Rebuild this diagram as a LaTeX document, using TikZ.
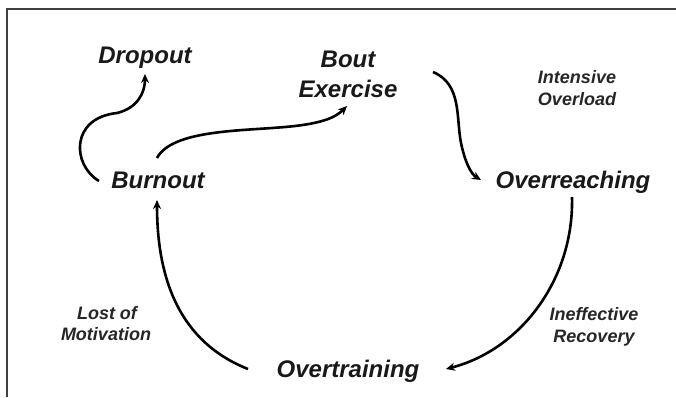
\documentclass[tikz,border=0pt]{standalone}
\usepackage{fontspec}
\setmainfont{Liberation Sans}
\usetikzlibrary{arrows.meta}
\begin{document}
\begin{tikzpicture}[x=1pt,y=-1pt,
 big/.style={font=\fontsize{24}{28}\selectfont\bfseries\itshape, anchor=base, inner sep=0pt, text=black!90},
 small/.style={font=\fontsize{18}{21}\selectfont\bfseries\itshape, anchor=base, inner sep=0pt, text=black!85},
 conn/.style={line width=2.6pt, -{Stealth[length=9pt,width=8pt]}}]
\useasboundingbox (0,0) rectangle (676,397);
\draw[line width=1.3pt, color=black!75] (7,397) -- (7,9) -- (676,9);
% main labels
\node[big] (dropout) at (145,63) {Dropout};
\node[big] (bout1) at (348,67) {Bout};
\node[big] (bout2) at (348,97) {Exercise};
\node[big] (burnout) at (158,188) {Burnout};
\node[big] (overreach) at (573,188) {Overreaching};
\node[big] (overtrain) at (348,377) {Overtraining};
% side labels
\node[small] (int1) at (577,83) {Intensive};
\node[small] (int2) at (577,105) {Overload};
\node[small] (inef1) at (594,320) {Ineffective};
\node[small] (inef2) at (594,342) {Recovery};
\node[small] (lost1) at (107,319) {Lost of};
\node[small] (lost2) at (106,340) {Motivation};
% connector end points
\coordinate (a1s) at (99,181);
\coordinate (a1e) at (145,74);
\coordinate (a2s) at (157,158);
\coordinate (a2e) at (347,106);
\coordinate (a3s) at (433,72);
\coordinate (a3e) at (481,180);
\coordinate (a4s) at (572,197);
\coordinate (a4e) at (446,369);
\coordinate (a5s) at (248,369);
\coordinate (a5e) at (157,200);
% connectors
\draw[conn] (a1s) .. controls (72,165) and (70,118) .. (117,113) .. controls (138,108) and (145,92) .. (a1e);
\draw[conn] (a2s) .. controls (172,130) and (240,131) .. (285,127) .. controls (320,124) and (335,118) .. (a2e);
\draw[conn] (a3s) .. controls (462,84) and (456,118) .. (461,143) .. controls (465,162) and (471,174) .. (a3e);
\draw[conn] (a4s) .. controls (574,280) and (520,350) .. (a4e);
\draw[conn] (a5s) .. controls (180,342) and (157,280) .. (a5e);
\end{tikzpicture}
\end{document}
